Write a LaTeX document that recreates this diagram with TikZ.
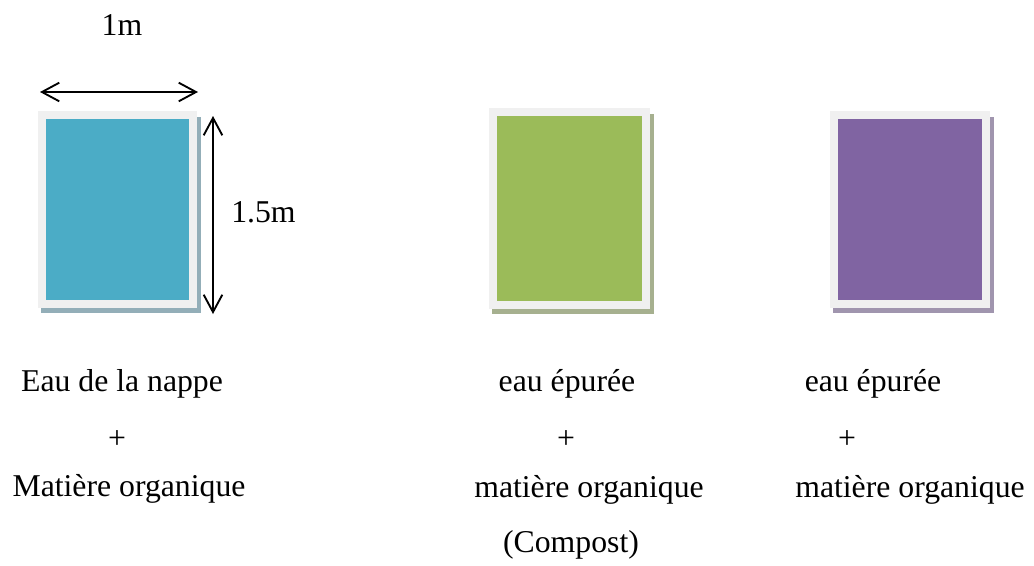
\documentclass[tikz,border=0pt]{standalone}
\usepackage{fontspec}
\setmainfont{Liberation Serif}
\usetikzlibrary{arrows.meta}
\definecolor{frame}{HTML}{F0F0F0}
\definecolor{waterblue}{HTML}{4BACC6}
\definecolor{waterblueshadow}{HTML}{93AEB8}
\definecolor{leafgreen}{HTML}{9BBB59}
\definecolor{leafgreenshadow}{HTML}{A6B08F}
\definecolor{violet}{HTML}{8064A2}
\definecolor{violetshadow}{HTML}{A095AE}
\tikzset{
  lbl/.style={anchor=base, inner sep=0pt, font=\fontsize{23.8}{28}\selectfont},
  dim/.style={line width=1.4pt, {Straight Barb[length=13pt,width=14pt,line width=1.4pt]}-{Straight Barb[length=13pt,width=14pt,line width=1.4pt]}},
}
% draws a tank: shadow, light frame, coloured fill
\newcommand{\tank}[6]{%
  % #1 name, #2 left, #3 top, #4 right, #5 bottom, #6 colour name
  \fill[#6shadow] (#2+3,#3+6) rectangle (#4+4,#5+5);
  \fill[frame] (#2,#3) rectangle (#4,#5);
  \node[fill=#6, inner sep=0pt, minimum width={(#4-#2-16)*0.75pt}, minimum height={(#5-#3-16)*0.75pt}] (#1) at ({(#2+#4)/2},{(#3+#5)/2}) {};
}
\begin{document}
\begin{tikzpicture}[x=0.75pt, y=-0.75pt]
\useasboundingbox (0,0) rectangle (1034,565);

\tank{tankA}{38}{111}{197}{308}{waterblue}
\tank{tankB}{489}{108}{650}{309}{leafgreen}
\tank{tankC}{830}{111}{990}{308}{violet}

% dimensions of the first tank
\coordinate (wL) at (40,92);
\coordinate (wR) at (198,92);
\coordinate (hT) at (213,116);
\coordinate (hB) at (213,314);
\draw[dim] (wL) -- (wR);
\draw[dim] (hT) -- (hB);
\node[lbl] (w) at (122,35) {1m};
\node[lbl, anchor=base west] (h) at (231,222) {1.5m};

% captions
\node[lbl] (a1) at (122,391) {Eau de la nappe};
\node[lbl] (a2) at (117,448) {+};
\node[lbl] (a3) at (129,496) {Matière organique};

\node[lbl] (b1) at (567,391) {eau épurée};
\node[lbl] (b2) at (566,448) {+};
\node[lbl] (b3) at (589,497) {matière organique};
\node[lbl] (b4) at (571,552) {(Compost)};

\node[lbl] (c1) at (873,391) {eau épurée};
\node[lbl] (c2) at (847,448) {+};
\node[lbl] (c3) at (910,497) {matière organique};
\end{tikzpicture}
\end{document}
